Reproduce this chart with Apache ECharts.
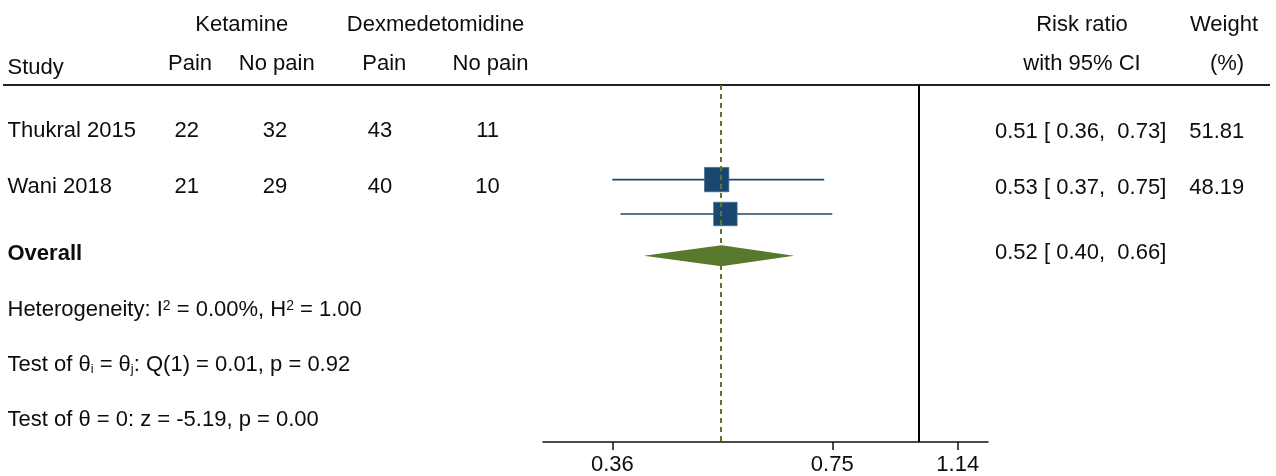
<!DOCTYPE html>
<html>
<head>
<meta charset="utf-8">
<script src="https://cdn.jsdelivr.net/npm/echarts@6/dist/echarts.min.js"></script>
<style>html,body{margin:0;padding:0;background:#fff;}#chart{width:1276px;height:476px;}</style>
</head>
<body>
<div id="chart"></div>
<script>
// ---- data ----
const studies = ['Thukral 2015', 'Wani 2018'];
const ketPain = [22, 21];
const ketNoPain = [32, 29];
const dexPain = [43, 40];
const dexNoPain = [11, 10];
const rrEst = [0.51, 0.525];
const rrLo = [0.36, 0.37];
const rrHi = [0.73, 0.75];
const weights = [51.81, 48.19];
const overallLabel = 'Overall';
const overallEst = 0.518;
const overallLo = 0.40;
const overallHi = 0.66;
const tickValues = [0.36, 0.75, 1.14];
const nullValue = 1;
const footerLines = [
  '{t|Heterogeneity: I}{sup|2}{t| = 0.00%, H}{sup|2}{t| = 1.00}',
  '{t|Test of \u03B8}{sub|i}{t| = \u03B8}{sub|j}{t|: Q(1) = 0.01, p = 0.92}',
  '{t|Test of \u03B8 = 0: z = -5.19, p = 0.00}'
];

// ---- layout ----
const W = 1276, H = 476;
const gridTop = 85, gridBottom = 32, gridLeft = 543, gridWidth = 445;
const yMin = 0.21, yMax = 6.70;
const textRows = [1, 2];
const overallRow = 3.2;
const footerRows = [4.23, 5.22, 6.22];
const markerRows = [1.93, 2.555];
const diamondRow = 3.315;
const dy = 2.5;
const rowPx = v => gridTop + (v - yMin) * (H - gridTop - gridBottom) / (yMax - yMin);
const FONT = '"Liberation Sans", Arial, Helvetica, sans-serif';
const f22 = '22px ' + FONT;
const navy = '#1a476f';
const green = '#58782c';
const txt = '#0d0d0d';

const fmt = v => v.toFixed(2);
const ciText = (e, l, h) => fmt(e) + ' [ ' + fmt(l) + ',  ' + fmt(h) + ']';

function T(text, x, y, align, bold) {
  return { type: 'text', x: x, y: y + dy, silent: true,
    style: { text: text, font: (bold ? 'bold ' : '') + f22, fill: txt, align: align || 'left', verticalAlign: 'middle' } };
}

const graphics = [];
// header
graphics.push(T('Ketamine', 241.7, 22.5, 'center'));
graphics.push(T('Dexmedetomidine', 435.5, 22.5, 'center'));
graphics.push(T('Risk ratio', 1082, 22.5, 'center'));
graphics.push(T('Weight', 1224, 22.5, 'center'));
graphics.push(T('Study', 7.5, 65.5, 'left'));
graphics.push(T('Pain', 190, 61, 'center'));
graphics.push(T('No pain', 276.7, 61, 'center'));
graphics.push(T('Pain', 384.3, 61, 'center'));
graphics.push(T('No pain', 490.5, 61, 'center'));
graphics.push(T('with 95% CI', 1082, 61, 'center'));
graphics.push(T('(%)', 1227, 61, 'center'));
// rule
graphics.push({ type: 'line', silent: true, shape: { x1: 3, y1: 85, x2: 1270, y2: 85 }, style: { stroke: '#222', lineWidth: 2 } });
// study rows
studies.forEach((s, i) => {
  const y = rowPx(textRows[i]);
  graphics.push(T(s, 7.5, y, 'left'));
  graphics.push(T(String(ketPain[i]), 186.7, y, 'center'));
  graphics.push(T(String(ketNoPain[i]), 275, y, 'center'));
  graphics.push(T(String(dexPain[i]), 380, y, 'center'));
  graphics.push(T(String(dexNoPain[i]), 487.6, y, 'center'));
  graphics.push(T(ciText(rrEst[i], rrLo[i], rrHi[i]), 995, y + 1, 'left'));
  graphics.push(T(fmt(weights[i]), 1216.7, y + 1, 'center'));
});
graphics.push(T(overallLabel, 7.5, rowPx(overallRow) + 1.5, 'left', true));
graphics.push(T(ciText(overallEst, overallLo, overallHi), 995, rowPx(overallRow) + 0.5, 'left'));
footerLines.forEach((line, i) => {
  graphics.push({ type: 'text', x: 7.5, y: rowPx(footerRows[i]) + dy, silent: true,
    style: { text: line, fill: txt, align: 'left', verticalAlign: 'middle',
      rich: {
        t: { font: f22, fill: txt, lineHeight: 22 },
        sup: { font: '14px ' + FONT, fill: txt, lineHeight: 15, verticalAlign: 'top' },
        sub: { font: '13px ' + FONT, fill: txt, lineHeight: 14, verticalAlign: 'bottom' }
      } } });
});

const studyData = studies.map((s, i) => [Math.log(rrLo[i]), Math.log(rrHi[i]), Math.log(rrEst[i]), weights[i], markerRows[i]]);
const boxK = 3.376;

const chart = echarts.init(document.getElementById('chart'), null, { renderer: 'canvas' });
chart.setOption({
  animation: false,
  backgroundColor: '#fff',
  grid: { left: gridLeft, width: gridWidth, top: gridTop, bottom: gridBottom, containLabel: false },
  xAxis: {
    type: 'value',
    min: -1.2529, max: 0.2319,
    splitLine: { show: false },
    axisLine: { show: true, onZero: false, lineStyle: { color: '#111', width: 1.5 } },
    axisTick: { show: true, length: 8, customValues: tickValues.map(Math.log), lineStyle: { color: '#111', width: 1.5 } },
    axisLabel: { customValues: tickValues.map(Math.log), formatter: v => fmt(Math.exp(v)), margin: 12,
      fontFamily: FONT, fontSize: 22, color: txt }
  },
  yAxis: { type: 'value', inverse: true, min: yMin, max: yMax, show: false },
  graphic: { elements: graphics },
  series: [
    {
      type: 'custom',
      data: studyData,
      clip: false,
      renderItem: function (params, api) {
        const lo = api.coord([api.value(0), api.value(4)]);
        const hi = api.coord([api.value(1), api.value(4)]);
        const c = api.coord([api.value(2), api.value(4)]);
        const s = boxK * Math.sqrt(api.value(3));
        return { type: 'group', children: [
          { type: 'line', shape: { x1: lo[0], y1: lo[1], x2: hi[0], y2: hi[1] }, style: { stroke: navy, lineWidth: 1.6 } },
          { type: 'rect', shape: { x: c[0] - s / 2, y: c[1] - s / 2, width: s, height: s }, style: { fill: navy, stroke: '#46698c', lineWidth: 0.8 } }
        ] };
      },
      markLine: {
        silent: true, symbol: 'none', label: { show: false },
        data: [
          { xAxis: Math.log(nullValue), lineStyle: { color: '#000', width: 2, type: 'solid' } },
          { xAxis: Math.log(overallEst), lineStyle: { color: green, width: 2, type: [5, 4] } }
        ]
      },
      z: 3
    },
    {
      type: 'custom',
      data: [[Math.log(overallLo), Math.log(overallHi), Math.log(overallEst), diamondRow]],
      clip: false,
      renderItem: function (params, api) {
        const lo = api.coord([api.value(0), api.value(3)]);
        const hi = api.coord([api.value(1), api.value(3)]);
        const c = api.coord([api.value(2), api.value(3)]);
        const h = 10.5;
        return { type: 'polygon', shape: { points: [[lo[0], lo[1]], [c[0], c[1] - h], [hi[0], hi[1]], [c[0], c[1] + h]] }, style: { fill: green } };
      },
      z: 4
    }
  ]
});
</script>
</body>
</html>
